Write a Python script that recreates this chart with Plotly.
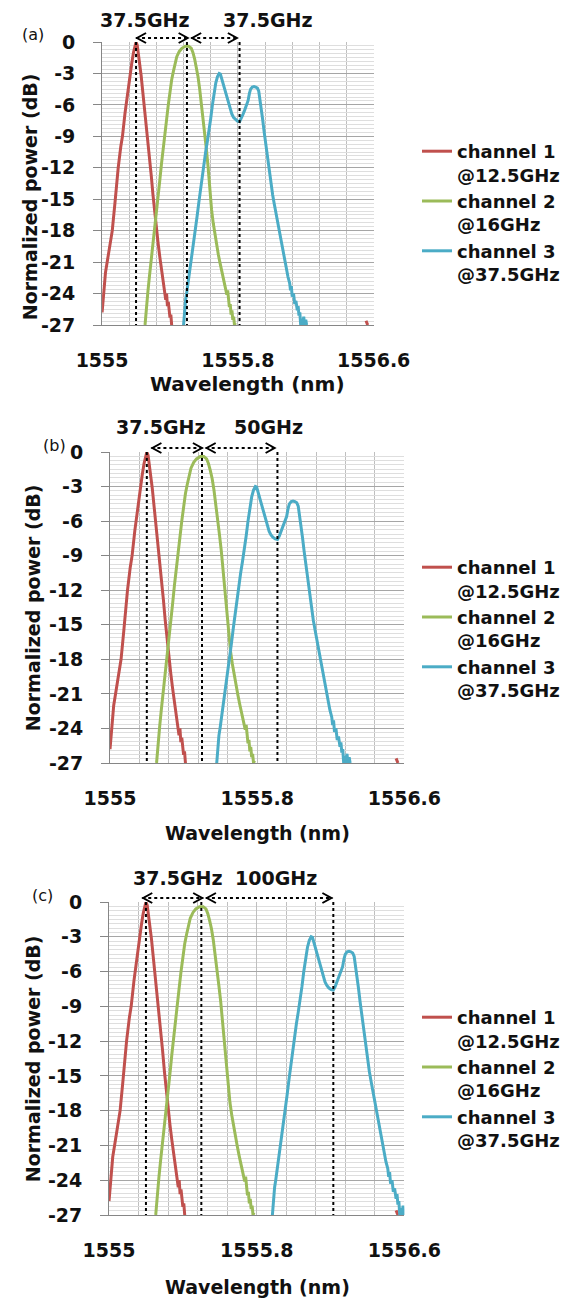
import plotly.graph_objects as go

# ---------------- data ----------------
ch1_wl = [1555.000, 1555.004, 1555.008, 1555.012, 1555.020, 1555.030, 1555.045, 1555.060,
          1555.075, 1555.085, 1555.095, 1555.110, 1555.120, 1555.135, 1555.150, 1555.165,
          1555.175, 1555.185, 1555.193, 1555.200, 1555.207, 1555.213, 1555.220, 1555.230,
          1555.240, 1555.250, 1555.260, 1555.270, 1555.280, 1555.290, 1555.300, 1555.310,
          1555.320, 1555.330, 1555.340, 1555.350, 1555.360, 1555.370, 1555.375, 1555.380,
          1555.385, 1555.390, 1555.395, 1555.400, 1555.405, 1555.410, None, 1556.555, 1556.565]
ch1_db = [-25.8, -24.9, -24.2, -23.0, -22.0, -21.0, -19.5, -18.0,
          -15.5, -13.5, -12.0, -10.0, -9.0, -6.8, -4.8, -3.0,
          -2.0, -1.0, -0.3, 0.0, -0.3, -1.0, -2.0, -3.2,
          -4.8, -6.3, -8.0, -9.6, -11.2, -12.8, -14.6, -16.3,
          -17.8, -19.2, -20.5, -21.6, -22.8, -23.8, -24.6, -24.0,
          -25.2, -24.8, -25.9, -26.3, -26.0, -27.0, None, -26.6, -27.0]

ch2_wl = [1555.253, 1555.260, 1555.270, 1555.280, 1555.290, 1555.300, 1555.310, 1555.320,
          1555.330, 1555.340, 1555.350, 1555.360, 1555.370, 1555.380, 1555.390, 1555.400,
          1555.410, 1555.420, 1555.430, 1555.440, 1555.455, 1555.470, 1555.490, 1555.510,
          1555.525, 1555.535, 1555.545, 1555.555, 1555.565, 1555.575, 1555.585, 1555.595,
          1555.605, 1555.615, 1555.625, 1555.635, 1555.645, 1555.655, 1555.665, 1555.675,
          1555.685, 1555.695, 1555.705, 1555.715, 1555.725, 1555.735, 1555.740, 1555.745,
          1555.750, 1555.755, 1555.760, 1555.765, 1555.770, 1555.775, 1555.780, 1555.785]
ch2_db = [-27.0, -25.5, -23.8, -22.2, -20.8, -19.3, -17.8, -16.3,
          -14.8, -13.2, -11.6, -10.0, -8.6, -7.4, -6.0, -4.6,
          -3.6, -2.8, -2.0, -1.4, -0.9, -0.6, -0.4, -0.4,
          -0.6, -1.0, -1.6, -2.3, -3.3, -4.5, -5.8, -7.2,
          -8.6, -10.3, -12.0, -14.2, -16.0, -17.3, -18.4, -19.4,
          -20.3, -21.1, -21.9, -22.6, -23.3, -24.1, -23.7, -24.8,
          -25.3, -25.0, -26.0, -25.6, -26.5, -26.2, -27.0, -26.8]

# channel 3: wavelength offset from its central dip, and power
ch3_offset = [-0.330, -0.326, -0.322, -0.318, -0.312, -0.305, -0.298, -0.290, -0.280, -0.270,
              -0.260, -0.250, -0.240, -0.230, -0.220, -0.210, -0.200, -0.190, -0.180, -0.170,
              -0.160, -0.150, -0.140, -0.130, -0.120, -0.113, -0.105, -0.095, -0.085, -0.075,
              -0.065, -0.055, -0.045, -0.035, -0.025, -0.012, 0.000, 0.010, 0.020, 0.030,
              0.040, 0.050, 0.058, 0.065, 0.075, 0.085, 0.095, 0.105, 0.113, 0.120,
              0.128, 0.136, 0.145, 0.155, 0.165, 0.175, 0.185, 0.195, 0.205, 0.215,
              0.225, 0.235, 0.245, 0.255, 0.265, 0.275, 0.285, 0.295, 0.300, 0.305,
              0.310, 0.318, 0.325, 0.332, 0.340, 0.345, 0.350, 0.355, 0.360, 0.366,
              0.372, 0.378, 0.383, 0.390, 0.395]
ch3_db = [-27.0, -26.0, -25.2, -24.6, -24.0, -23.2, -22.3, -21.4, -20.4, -19.2,
          -17.9, -16.6, -15.3, -14.0, -12.8, -11.6, -10.5, -9.5, -8.5, -7.3,
          -6.0, -4.8, -3.9, -3.3, -3.0, -3.05, -3.5, -4.1, -4.8, -5.4,
          -5.9, -6.4, -6.9, -7.2, -7.4, -7.55, -7.6, -7.3, -6.9, -6.5,
          -6.1, -5.6, -4.9, -4.5, -4.3, -4.25, -4.3, -4.4, -4.7, -5.4,
          -6.3, -7.4, -8.6, -9.9, -11.2, -12.5, -13.6, -14.6, -15.5, -16.4,
          -17.3, -18.2, -19.1, -20.0, -20.9, -21.7, -22.4, -23.0, -23.7, -23.3,
          -24.3, -24.0, -25.0, -24.7, -25.6, -25.2, -26.1, -25.8, -27.0, -26.4,
          -27.0, -26.2, -27.0, -26.5, -27.0]

panel_tags = ["(a)", "(b)", "(c)"]
ch3_dip = [1555.81, 1555.91, 1556.215]          # channel-3 centre (dip) per panel
ch1_center = 1555.20
ch2_center = 1555.50
spacing_left = ["37.5GHz", "37.5GHz", "37.5GHz"]
spacing_right = ["37.5GHz", "50GHz", "100GHz"]
arrow1 = [(1555.20, 1555.51), (1555.225, 1555.505), (1555.18, 1555.51)]
arrow2 = [(1555.525, 1555.80), (1555.52, 1555.90), (1555.525, 1556.21)]

trace_names = ["channel 1<br>@12.5GHz", "channel 2<br>@16GHz", "channel 3<br>@37.5GHz"]
trace_colors = ["#C0504D", "#9BBB59", "#4BACC6"]

x_tick_vals = [1555, 1555.8, 1556.6]
x_tick_text = ["1555", "1555.8", "1556.6"]
y_tick_vals = [0, -3, -6, -9, -12, -15, -18, -21, -24, -27]
y_tick_text = ["0", "-3", "-6", "-9", "-12", "-15", "-18", "-21", "-24", "-27"]

# ---------------- layout geometry (pixels) ----------------
W, H = 565, 1299
plot_px = [  # left, right, top, bottom
    (103, 377, 42, 325),
    (111, 408, 452, 763),
    (110, 408, 902, 1215),
]
FONT = "DejaVu Sans"
TXT = "#111111"


def px_x(p):
    return p / W


def px_y(p):
    return 1 - p / H


fig = go.Figure()
shapes = []
annotations = []

for i in range(3):
    l, r, t, b = plot_px[i]
    sfx = "" if i == 0 else str(i + 1)
    xa, ya = "x" + sfx, "y" + sfx
    leg = "legend" if i == 0 else "legend" + str(i + 1)
    ch3_wl = [ch3_dip[i] + o for o in ch3_offset]
    for k, (xs, ys) in enumerate([(ch1_wl, ch1_db), (ch2_wl, ch2_db), (ch3_wl, ch3_db)]):
        fig.add_trace(go.Scatter(
            x=xs, y=ys, mode="lines", name=trace_names[k],
            line=dict(color=trace_colors[k], width=3),
            xaxis=xa, yaxis=ya, legend=leg, connectgaps=False,
            hoverinfo="skip",
        ))

    fig.layout["xaxis" + sfx] = dict(
        domain=[px_x(l), px_x(r)], anchor=ya, range=[1555, 1556.6],
        tickmode="array", tickvals=x_tick_vals, ticktext=x_tick_text,
        showgrid=True, gridcolor="#BFBFBF", gridwidth=1,
        minor=dict(tickmode="linear", tick0=1555, dtick=0.16, showgrid=True,
                   gridcolor="#BFBFBF", gridwidth=1, ticks=""),
        showline=True, linecolor="#868686", linewidth=1,
        ticks="", ticklabelstandoff=18,
        tickfont=dict(family=FONT, size=19, color=TXT, weight="bold"),
        zeroline=False, automargin=False, fixedrange=True,
    )
    fig.layout["yaxis" + sfx] = dict(
        domain=[px_y(b), px_y(t)], anchor=xa, range=[-27, 0],
        tickmode="array", tickvals=y_tick_vals, ticktext=y_tick_text,
        showgrid=True, gridcolor="#A6A6A6", gridwidth=1,
        minor=dict(tickmode="linear", tick0=0, dtick=0.375, showgrid=True,
                   gridcolor="#DEDEDE", gridwidth=1, ticks=""),
        showline=True, linecolor="#868686", linewidth=1,
        ticks="outside", ticklen=8, tickcolor="#868686", ticklabelstandoff=14,
        tickfont=dict(family=FONT, size=19, color=TXT, weight="bold"),
        zeroline=False, automargin=False, fixedrange=True,
    )

    # vertical dotted marker lines
    for xv in (ch1_center, ch2_center, ch3_dip[i]):
        shapes.append(dict(type="line", xref=xa, yref=ya, x0=xv, x1=xv, y0=0, y1=-27,
                           line=dict(color="black", width=2, dash="dot")))

    # spacing arrows above the plot
    ay = px_y(t - 4)
    for (a0, a1) in (arrow1[i], arrow2[i]):
        shapes.append(dict(type="line", xref=xa, yref="paper", x0=a0, x1=a1, y0=ay, y1=ay,
                           line=dict(color="black", width=2, dash="dot")))
        shapes.append(dict(type="path", xref=xa, yref="paper", xsizemode="pixel",
                           ysizemode="pixel", xanchor=a0, yanchor=ay,
                           path="M 10 5 L 1 0 L 10 -5", line=dict(color="black", width=2)))
        shapes.append(dict(type="path", xref=xa, yref="paper", xsizemode="pixel",
                           ysizemode="pixel", xanchor=a1, yanchor=ay,
                           path="M -10 5 L -1 0 L -10 -5", line=dict(color="black", width=2)))

    # spacing labels
    lab_y = [20, 427, 878][i]
    lab_x = [(146, 270), (162, 271), (179, 278)][i]
    annotations.append(dict(text=spacing_left[i], xref="paper", yref="paper",
                            x=px_x(lab_x[0]), y=px_y(lab_y), showarrow=False,
                            xanchor="center", yanchor="middle",
                            font=dict(family=FONT, size=19, color=TXT, weight="bold")))
    annotations.append(dict(text=spacing_right[i], xref="paper", yref="paper",
                            x=px_x(lab_x[1]), y=px_y(lab_y), showarrow=False,
                            xanchor="center", yanchor="middle",
                            font=dict(family=FONT, size=19, color=TXT, weight="bold")))
    # panel tag
    tag_pos = [(33, 35), (55, 446), (43, 895)][i]
    annotations.append(dict(text=panel_tags[i], xref="paper", yref="paper",
                            x=px_x(tag_pos[0]), y=px_y(tag_pos[1]), showarrow=False,
                            xanchor="center", yanchor="middle",
                            font=dict(family=FONT, size=16, color=TXT)))
    # axis titles
    ytitle_x = [30, 33, 33][i]
    annotations.append(dict(text="Normalized power (dB)", xref="paper", yref="paper",
                            x=px_x(ytitle_x), y=px_y((t + b) / 2 + [13, 0, 0][i]),
                            textangle=-90, showarrow=False,
                            xanchor="center", yanchor="middle",
                            font=dict(family=FONT, size=19, color=TXT, weight="bold")))
    xt = [(250, 384, 20), (260, 833, 19), (260, 1287, 19)][i]
    annotations.append(dict(text="Wavelength (nm)", xref="paper", yref="paper",
                            x=px_x(xt[0]), y=px_y(xt[1]), showarrow=False,
                            xanchor="center", yanchor="middle",
                            font=dict(family=FONT, size=xt[2], color=TXT, weight="bold")))

    # legend
    leg_top = [133, 549, 999][i]
    fig.layout[leg] = dict(
        x=px_x(421), y=px_y(leg_top), xanchor="left", yanchor="top",
        bgcolor="rgba(0,0,0,0)", borderwidth=0, valign="top",
        font=dict(family=FONT, size=18, color=TXT, weight="bold"),
        tracegroupgap=0, itemwidth=30,
    )

fig.update_layout(
    width=W, height=H, margin=dict(l=0, r=0, t=0, b=0),
    paper_bgcolor="white", plot_bgcolor="white",
    shapes=shapes, annotations=annotations, showlegend=True,
)

fig.write_html("out.html")
